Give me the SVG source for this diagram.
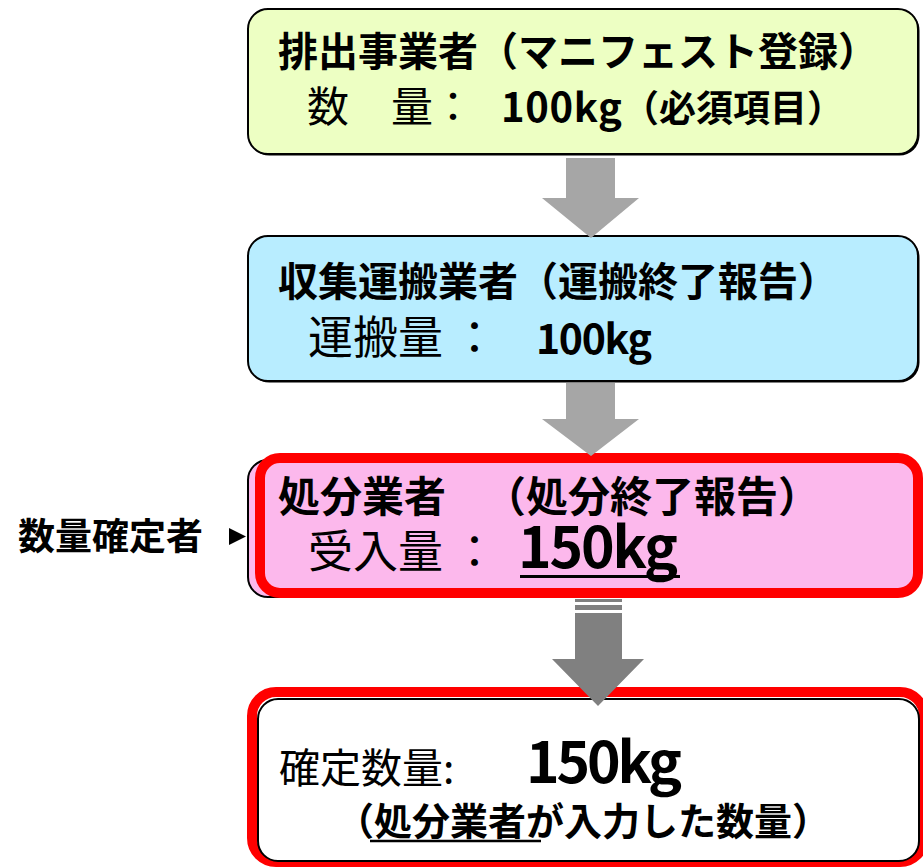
<svg xmlns="http://www.w3.org/2000/svg" width="923" height="868" viewBox="0 0 923 868">
<style>
text{font-family:"Noto Sans CJK JP","Noto Sans",sans-serif;fill:#000}
.b{font-weight:700}
.r{font-weight:400}
.shadow{fill:#000}
.box{stroke:#000;stroke-width:2}
.hl{fill:none;stroke:#FF0000;stroke-width:10}
.arr{fill:#A6A6A6}
.arr3{fill:#808080}
</style>
<rect width="923" height="868" fill="#fff"/>
<g id="node-haishutsu">
<rect class="shadow" x="249.5" y="10.5" width="670" height="145" rx="20"/>
<rect class="box" x="248" y="9" width="670" height="145" rx="20" fill="#EDFFC3"/>
<text class="b" x="278" y="66" font-size="40">排出事業者（マニフェスト登録）</text>
<text y="122"><tspan class="r" x="307" font-size="42">数</tspan><tspan class="r" x="391" font-size="42">量</tspan><tspan class="r" x="432" font-size="42">：</tspan><tspan class="b" x="501" font-size="40" textLength="121">100kg</tspan><tspan class="b" x="622" font-size="37">（必須項目）</tspan></text>
</g>
<g id="node-shuushuu">
<rect class="shadow" x="249.5" y="237.5" width="670" height="145" rx="20"/>
<rect class="box" x="248" y="236" width="670" height="145" rx="20" fill="#B8EDFF"/>
<text class="b" x="278" y="296" font-size="40">収集運搬業者（運搬終了報告）</text>
<text y="354"><tspan class="r" x="308" font-size="45">運搬量</tspan><tspan class="r" x="452" font-size="45">：</tspan><tspan class="b" x="536" font-size="41" textLength="116">100kg</tspan></text>
</g>
<g id="node-shobun">
<rect class="box" x="248" y="460" width="665" height="137" rx="20" fill="#FCB8EC" stroke-width="2.5"/>
<rect class="hl" x="260" y="458" width="658" height="135" rx="20" style="fill:#FCB8EC"/>
<text class="b" y="512"><tspan x="278" font-size="42">処分業者</tspan><tspan x="484" font-size="42">（処分終了報告）</tspan></text>
<text y="568"><tspan class="r" x="308" font-size="45">受入量</tspan><tspan class="r" x="452" font-size="45">：</tspan><tspan class="b" x="518" font-size="57" textLength="160">150kg</tspan></text>
<line x1="520" y1="576.5" x2="680" y2="576.5" stroke="#000" stroke-width="3"/>
</g>
<g id="node-kakutei">
<rect class="hl" x="252" y="692" width="672" height="170" rx="24"/>
<rect class="box" x="258" y="699" width="661" height="162" rx="20" fill="#fff"/>
<text y="783"><tspan class="r" x="279" font-size="41">確定数量:</tspan><tspan class="b" x="526" font-size="57" textLength="156">150kg</tspan></text>
<text class="b" x="336" y="835" font-size="38">（処分業者が入力した数量）</text>
<line x1="370" y1="841" x2="541" y2="841" stroke="#000" stroke-width="2.5"/>
</g>
<g id="label-kakuteisha">
<text class="b" x="18" y="550" font-size="37">数量確定者</text>
</g>
<g id="connectors">
<polygon class="arr" points="566,158 615,158 615,198 639,198 591,238 542,198 566,198"/>
<polygon class="arr" points="566,383 615,383 615,419 639,419 591,456 542,419 566,419"/>
<rect class="arr3" x="575" y="599" width="47" height="3"/>
<rect class="arr3" x="575" y="605" width="47" height="5"/>
<polygon class="arr3" points="575,613 622,613 622,659 644,659 598,706 552,659 575,659"/>
<polygon fill="#000" points="229,528 246,536.5 229,545"/>
</g>
</svg>
